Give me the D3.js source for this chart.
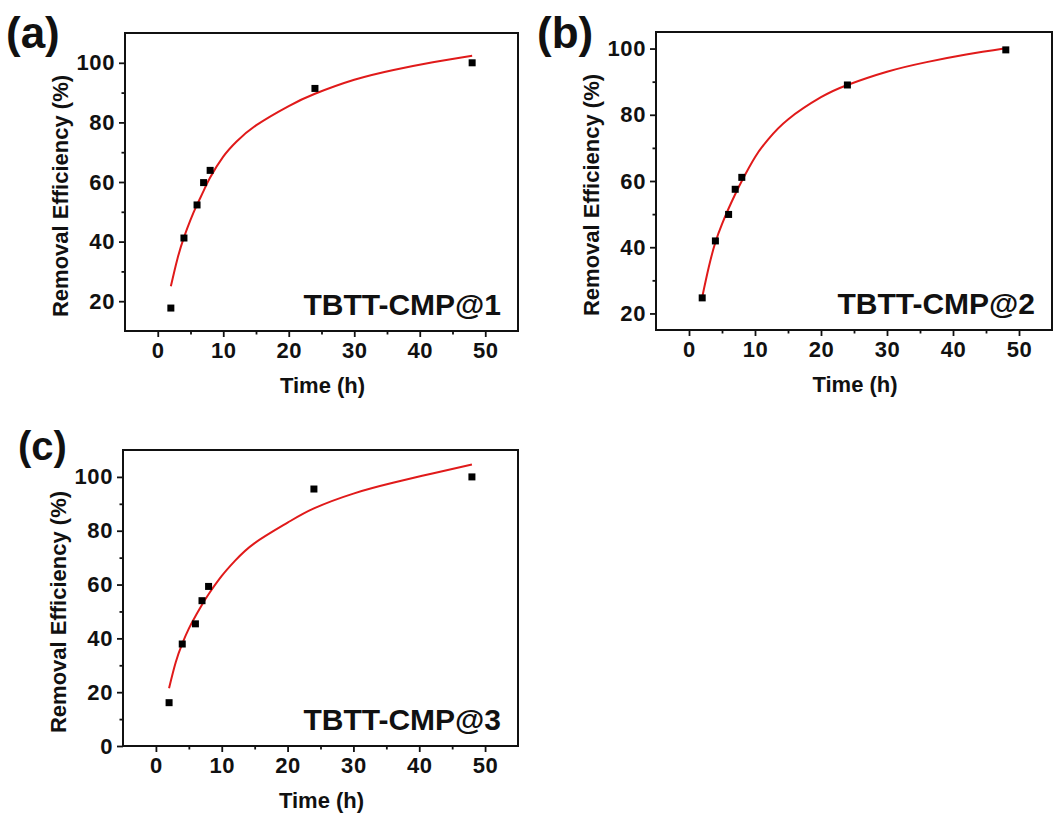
<!DOCTYPE html>
<html>
<head>
<meta charset="utf-8">
<script src="https://cdn.jsdelivr.net/npm/d3@7"></script>
<style>
  body { margin: 0; background: #fff; }
  svg text { font-family: "Liberation Sans", Arial, sans-serif; font-weight: bold; fill: #111; }
</style>
</head>
<body>
<svg id="chart" width="1054" height="819"></svg>
<script>
// sampling times (h)
const timeH = [2, 4, 6, 7, 8, 24, 48];

// measured removal efficiency (%)
const effA = [17.7, 41.2, 52.3, 59.8, 63.9, 91.4, 100.0];
const effB = [24.7, 41.9, 49.9, 57.5, 61.1, 89.0, 99.6];
const effC = [16.1, 37.9, 45.4, 54.0, 59.3, 95.5, 100.0];

// fitted curves
const fitTime = [2, 3, 4, 5, 6, 7, 8, 10, 12, 15, 20, 24, 30, 36, 42, 48];
const fitA = [25.0, 34.2, 41.4, 47.3, 52.4, 57.0, 61.5, 68.5, 73.5, 79.0, 85.5, 89.6, 94.3, 97.6, 100.2, 102.4];
const fitB = [24.9, 34.0, 41.5, 47.0, 51.7, 56.0, 60.0, 67.2, 72.6, 78.6, 85.3, 89.0, 93.0, 95.9, 98.2, 100.1];
const fitC = [21.5, 31.0, 38.0, 43.6, 48.2, 52.5, 56.4, 63.2, 68.8, 75.4, 83.0, 88.3, 93.8, 97.8, 101.3, 104.6];

// axis ticks
const xMajor = [0, 10, 20, 30, 40, 50];
const xMinor = [5, 15, 25, 35, 45];
const yMajorAB = [20, 40, 60, 80, 100];
const yMinorAB = [30, 50, 70, 90];
const yMajorC = [0, 20, 40, 60, 80, 100];
const yMinorC = [10, 30, 50, 70, 90];

const panelTags = ["(a)", "(b)", "(c)"];
const sampleNames = ["TBTT-CMP@1", "TBTT-CMP@2", "TBTT-CMP@3"];

const svg = d3.select("#chart");

function drawPanel(p) {
  let xs = d3.scaleLinear().domain([-5, 55]).range([p.left, p.right]);
  let ys = d3.scaleLinear().domain(p.yDomain).range([p.bottom, p.top]);
  let g = svg.append("g");

  // minor ticks
  g.append("g")
    .attr("transform", `translate(0,${p.bottom})`)
    .call(d3.axisBottom(xs).tickValues(xMinor).tickSize(3.5).tickFormat(""));
  g.append("g")
    .attr("transform", `translate(${p.left},0)`)
    .call(d3.axisLeft(ys).tickValues(p.yMinor).tickSize(3.5).tickFormat(""));

  // major ticks + labels
  g.append("g")
    .attr("transform", `translate(0,${p.bottom})`)
    .call(d3.axisBottom(xs).tickValues(xMajor).tickSize(6).tickPadding(5));
  g.append("g")
    .attr("transform", `translate(${p.left},0)`)
    .call(d3.axisLeft(ys).tickValues(p.yMajor).tickSize(6).tickPadding(4));

  g.selectAll(".domain").remove();
  g.selectAll(".tick line").attr("stroke", "#111").attr("stroke-width", 1.8);
  g.selectAll(".tick text").attr("font-size", 22).attr("fill", "#111")
    .attr("letter-spacing", 0.6)
    .style("font-family", '"Liberation Sans", Arial, sans-serif').style("font-weight", "bold");

  // frame
  g.append("rect")
    .attr("x", p.left).attr("y", p.top)
    .attr("width", p.right - p.left).attr("height", p.bottom - p.top)
    .attr("fill", "none").attr("stroke", "#111").attr("stroke-width", 2);

  // fit line
  let line = d3.line()
    .x((d, i) => xs(fitTime[i]))
    .y(d => ys(d))
    .curve(d3.curveNatural);
  g.append("path")
    .attr("d", line(p.fit))
    .attr("fill", "none").attr("stroke", "#e01a1a").attr("stroke-width", 2);

  // data points
  let sz = 7;
  g.selectAll(".pt").data(p.eff).enter().append("rect")
    .attr("x", (d, i) => xs(timeH[i]) - sz / 2)
    .attr("y", d => ys(d) - sz / 2)
    .attr("width", sz).attr("height", sz)
    .attr("fill", "#000");

  // titles
  g.append("text")
    .attr("x", (p.left + p.right) / 2 + 1)
    .attr("y", p.bottom + 62)
    .attr("text-anchor", "middle")
    .attr("font-size", 22)
    .text("Time (h)");
  let cy = (p.top + p.bottom) / 2 + 14;
  g.append("text")
    .attr("transform", `translate(${p.left - 65},${cy}) rotate(-90)`)
    .attr("text-anchor", "middle")
    .attr("dy", "0.35em")
    .attr("font-size", 22)
    .text("Removal Efficiency (%)");

  // sample name
  g.append("text")
    .attr("x", p.right - 17)
    .attr("y", p.bottom - 16)
    .attr("text-anchor", "end")
    .attr("font-size", 30)
    .text(p.name);

  // panel tag
  g.append("text")
    .attr("x", p.tagX).attr("y", p.tagY)
    .attr("font-size", p.tagSize)
    .text(p.tag);
}

drawPanel({left: 125, top: 33, right: 518, bottom: 331, yDomain: [10, 110],
  yMajor: yMajorAB, yMinor: yMinorAB, eff: effA, fit: fitA,
  name: sampleNames[0], tag: panelTags[0], tagX: 6, tagY: 48, tagSize: 44});
drawPanel({left: 656, top: 32, right: 1052, bottom: 330, yDomain: [15, 105],
  yMajor: yMajorAB, yMinor: yMinorAB, eff: effB, fit: fitB,
  name: sampleNames[1], tag: panelTags[1], tagX: 537, tagY: 48, tagSize: 44});
drawPanel({left: 123, top: 450, right: 518, bottom: 746, yDomain: [0, 110],
  yMajor: yMajorC, yMinor: yMinorC, eff: effC, fit: fitC,
  name: sampleNames[2], tag: panelTags[2], tagX: 18, tagY: 460, tagSize: 40});
</script>
</body>
</html>
